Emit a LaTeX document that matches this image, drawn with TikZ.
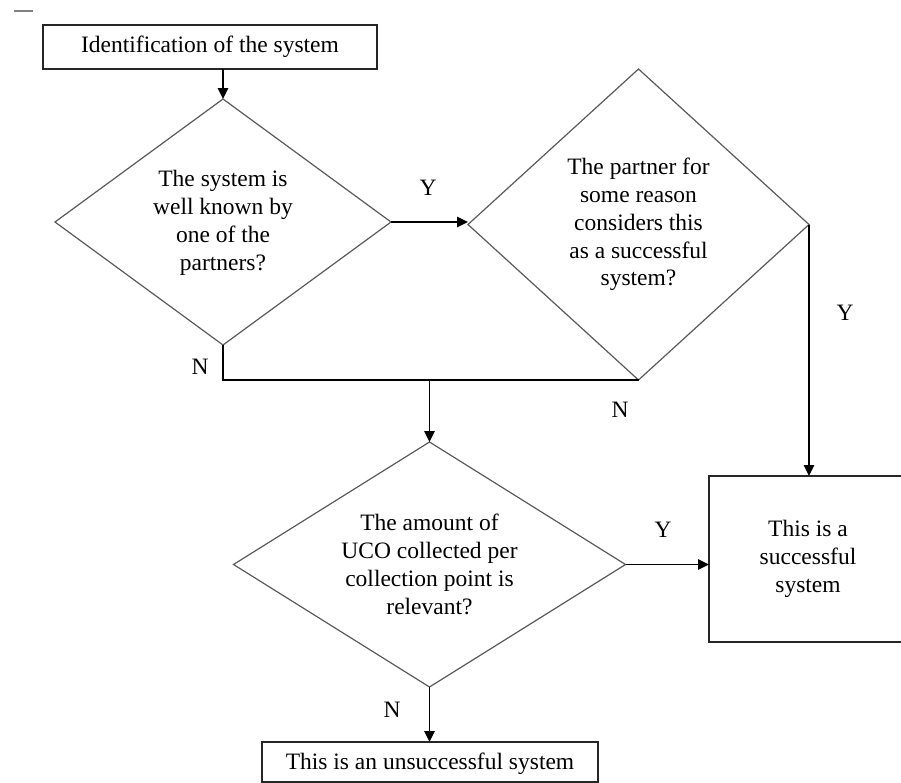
\documentclass[tikz,border=0pt]{standalone}
\usepackage{fontspec}
\setmainfont{Liberation Serif}
\usetikzlibrary{shapes.geometric,arrows.meta}
\begin{document}
\begin{tikzpicture}[x=0.5pt,y=-0.5pt,
  every node/.style={font=\fontsize{11.75pt}{13.9pt}\selectfont},
  dia/.style={diamond,draw=black!65,line width=0.6pt,inner sep=0pt,outer sep=0pt},
  boxn/.style={rectangle,draw=black!85,line width=0.8pt,inner sep=0pt,outer sep=0pt},
  txt/.style={align=center,inner sep=0pt},
  conn/.style={line width=0.85pt,draw=black},
  arr/.style={conn,-{Triangle[length=5.5pt,width=5.2pt]}},
  lbl/.style={inner sep=0pt}]
\useasboundingbox (0,0) rectangle (901,783);
\clip (0,0) rectangle (901,783);
% stray mark at top left
\draw[gray,line width=0.6pt] (14,11) -- (33,11);
% boxes
\node[boxn,minimum width=167pt,minimum height=22pt] (b1) at (210,47) {};
\node[txt] at (b1) {Identification of the system};
\node[boxn,minimum width=99pt,minimum height=83pt] (succ) at (808,559) {};
\node[txt] at (succ) {This is a\\successful\\system};
\node[boxn,minimum width=168pt,minimum height=20pt] (uns) at (430,762) {};
\node[txt] at ([yshift=-1pt]uns.center) {This is an unsuccessful system};
% diamonds
\node[dia,minimum width=168pt,minimum height=123pt] (d1) at (223,222) {};
\node[txt] at ([yshift=-0.5pt]d1.center) {The system is\\well known by\\one of the\\partners?};
\node[dia,minimum width=170.5pt,minimum height=155.5pt] (d2) at (638.5,224.5) {};
\node[txt] at ([yshift=0pt]d2.center) {The partner for\\some reason\\considers this\\as a successful\\system?};
\node[dia,minimum width=196pt,minimum height=122.5pt] (d3) at (429.5,564.5) {};
\node[txt] at ([yshift=0pt]d3.center) {The amount of\\UCO collected per\\collection point is\\relevant?};
% connectors
\draw[arr] (d1.north |- b1.south) -- (d1.north);
\draw[arr] (d1.east) -- (d1.east -| d2.west);
\draw[conn] (d1.south) |- (d2.south);
\coordinate (jn) at (429.5,380);
\draw[arr] (jn) -- (d3.north);
\draw[arr] (d2.east) -- (d2.east |- succ.north);
\draw[arr] (d3.east) -- (d3.east -| succ.west);
\draw[arr] (d3.south) -- (d3.south |- uns.north);
% labels
\node[lbl] at (428,188) {Y};
\node[lbl] at (200,367) {N};
\node[lbl] at (620,410) {N};
\node[lbl] at (845,313) {Y};
\node[lbl] at (663,530) {Y};
\node[lbl] at (392,710) {N};
\end{tikzpicture}
\end{document}
